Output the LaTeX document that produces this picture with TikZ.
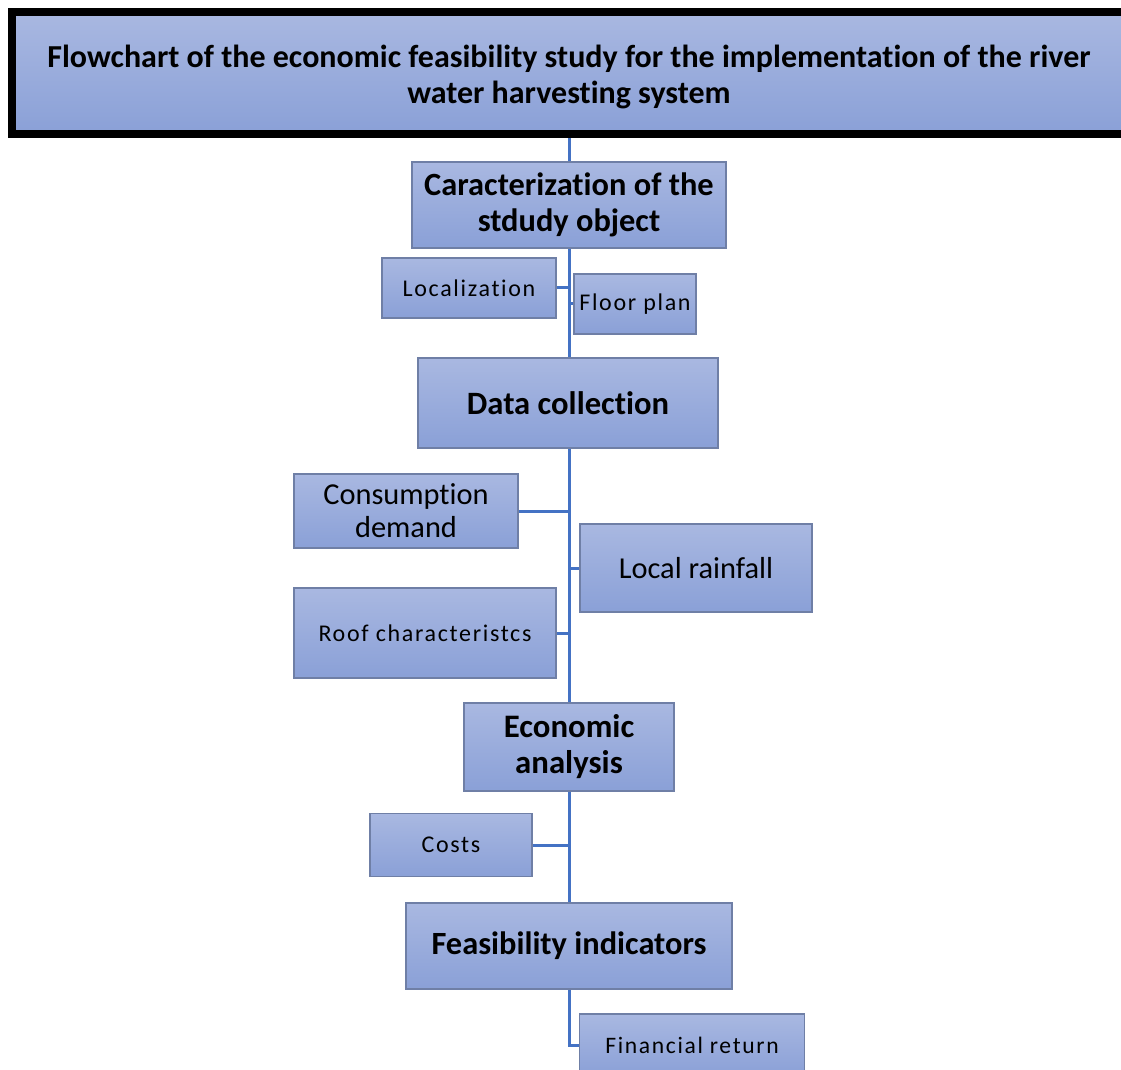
\documentclass[tikz,border=0pt]{standalone}
\usepackage{fontspec}
\setmainfont{Carlito}[Ligatures={NoCommon}]
\newfontfamily\spacedfont[LetterSpace=7,Ligatures={NoCommon}]{Carlito}
\begin{document}
\begin{tikzpicture}[x=0.5pt,y=-0.5pt,
  box/.style={rectangle, draw=boxline, line width=0.8pt, top color=boxtop, bottom color=boxbot,
    align=center, inner sep=2pt, text=black},
  small/.style={font=\fontsize{12}{14}\spacedfont},
  link/.style={draw=linkblue, line width=1.5pt}]
\definecolor{boxtop}{HTML}{A9B8E1}
\definecolor{boxbot}{HTML}{8AA0D7}
\definecolor{boxline}{HTML}{6F7FA6}
\definecolor{linkblue}{HTML}{4472C4}
\useasboundingbox (0,0) rectangle (1121,1070);
\begin{scope}
\clip (0,0) rectangle (1121,1070);
\node[box, draw=black, line width=4pt, minimum width=559pt, minimum height=61pt] (title) at (571,73) {};
\node[align=center, inner sep=0pt, font=\fontsize{16}{18}\selectfont\bfseries] (titletext) at (569,77)
  {Flowchart of the economic feasibility study for the implementation of the river\\water harvesting system};
\node[box, minimum width=157pt, minimum height=43pt, font=\fontsize{16.2}{18}\selectfont\bfseries]
  (car) at (569,205) {Caracterization of the\\stdudy object};
\node[box, minimum width=87pt, minimum height=30pt, small]
  (loc) at (469,288) {Localization};
\node[box, minimum width=61pt, minimum height=30pt, small]
  (floor) at (635,304) {Floor plan};
\node[box, minimum width=150pt, minimum height=45pt, font=\fontsize{16.3}{18}\selectfont\bfseries]
  (data) at (568,403) {Data collection};
\node[box, minimum width=112pt, minimum height=37pt, font=\fontsize{15.2}{16.5}\selectfont]
  (cons) at (406,511) {Consumption\\demand};
\node[box, minimum width=116pt, minimum height=44pt, font=\fontsize{15.2}{17}\selectfont]
  (rain) at (696,568) {Local rainfall};
\node[box, minimum width=131pt, minimum height=45pt, small]
  (roof) at (425,633) {Roof characteristcs};
\node[box, minimum width=105pt, minimum height=44pt, font=\fontsize{16.4}{18}\selectfont\bfseries]
  (econ) at (569,747) {Economic\\analysis};
\node[box, minimum width=81pt, minimum height=31.5pt, small]
  (costs) at (451,845) {Costs};
\node[box, minimum width=163pt, minimum height=43pt, font=\fontsize{16.2}{18}\selectfont\bfseries]
  (feas) at (569,946) {Feasibility indicators};
\node[box, minimum width=112.5pt, minimum height=31pt, font=\fontsize{11.8}{14}\spacedfont]
  (fin) at (692,1045) {Financial return};
\end{scope}
\coordinate (dtop) at (data.south -| econ.north);
\draw[link] (car.north |- title.south) -- (car.north);
\draw[link] (car.south) -- (car.south |- data.north);
\draw[link] (loc.east) -- (loc.east -| car.south);
\draw[link] (floor.west) -- (floor.west -| car.south);
\draw[link] (dtop) -- (econ.north);
\draw[link] (cons.east) -- (cons.east -| econ.north);
\draw[link] (rain.west) -- (rain.west -| econ.north);
\draw[link] (roof.east) -- (roof.east -| econ.north);
\draw[link] (econ.south) -- (feas.north);
\draw[link] (costs.east) -- (costs.east -| econ.south);
\draw[link] (feas.south) |- (fin.west);
\end{tikzpicture}
\end{document}
